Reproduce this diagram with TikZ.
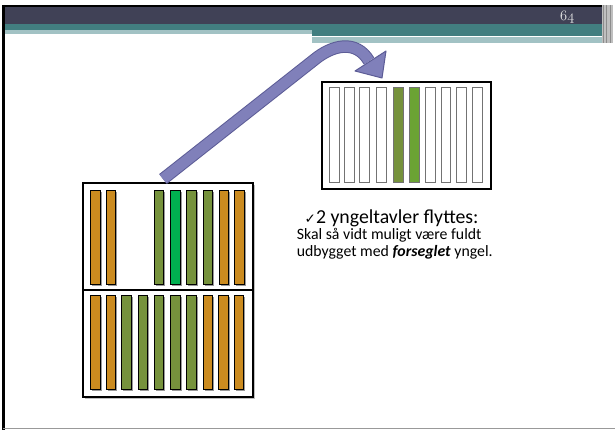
\documentclass[tikz,border=0pt]{standalone}
\usepackage{fontspec}
\setmainfont{Carlito}
\newfontfamily\symfont{DejaVu Sans}
\usetikzlibrary{positioning}

\definecolor{moerk}{RGB}{64,65,86}
\definecolor{teal}{RGB}{66,126,128}
\definecolor{lystteal}{RGB}{162,194,196}
\definecolor{tavleorange}{RGB}{203,139,31}
\definecolor{olivengroen}{RGB}{118,146,60}
\definecolor{klargroen}{RGB}{0,176,80}
\definecolor{nygroen}{RGB}{107,163,52}
\definecolor{pilfyld}{RGB}{128,128,186}
\definecolor{pilkant}{RGB}{92,92,150}

\begin{document}
\begin{tikzpicture}[x=1pt,y=-1pt]
\useasboundingbox (0,0) rectangle (615,430);

%ramme og top
    \fill[moerk] (5,6) rectangle (602,24);
    \fill[teal] (5,24) rectangle (602,30);
    \fill[teal] (312,30) rectangle (602,36);
    \fill[lystteal] (5,30) rectangle (312,34);
    \fill[lystteal] (312,37) rectangle (602,43);
    \draw[white, line width=1] (312,36.6) -- (573,36.6);
    \fill[black!25] (602,5) rectangle (613,43);
    \foreach \x in {603,606.5,610} {
        \draw[black!45, line width=0.8] (\x,5) -- (\x,43);
    }
    \draw[line width=2] (3,6) -- (602,6);
    \draw[line width=2.5] (3.5,5) -- (3.5,430);
    \draw[black!40, line width=1.5] (3,428.5) -- (615,428.5);
    \node[anchor=base west, inner sep=0, text=black!8,
        font=\fontsize{15}{16}\usefont{OML}{cmm}{m}{it}] (side)
        at (560,21) {64};

%venstre kasse (to tavler)
    \fill[black!25] (85,185) rectangle (255,399);
    \draw[line width=2.5, fill=white] (83,183) rectangle (253,290);
    \draw[line width=2.5, fill=white] (83,290) rectangle (253,397);

    %øverste række
    \foreach \x/\farve in {90.7/tavleorange, 106/tavleorange, 154.3/olivengroen,
        170.5/klargroen, 186.7/olivengroen, 203/olivengroen, 219/tavleorange,
        234.5/tavleorange} {
        \fill[black!40] (\x+1.5,192.2) rectangle (\x+11,285.5);
        \filldraw[draw=black, line width=0.8, fill=\farve] (\x,190.7) rectangle (\x+9.5,284);
    }

    %nederste række
    \foreach \x/\farve in {90.7/tavleorange, 106/tavleorange, 121.5/olivengroen,
        138/olivengroen, 154.3/olivengroen, 170.5/olivengroen, 186.7/olivengroen,
        203/tavleorange, 218.5/tavleorange, 234/tavleorange} {
        \fill[black!40] (\x+1.5,296.5) rectangle (\x+11,390.8);
        \filldraw[draw=black, line width=0.8, fill=\farve] (\x,295) rectangle (\x+9.5,389.3);
    }

%højre kasse
    \draw[line width=2.2, fill=white] (322,82) rectangle (491,189);
    \foreach \x/\farve in {329.3/white, 344.3/white, 359.3/white, 376.7/white,
        393.3/olivengroen, 409.3/nygroen, 425.3/white, 441/white, 456.7/white,
        472.3/white} {
        \filldraw[draw=black!55, line width=1, fill=\farve] (\x,87.3) rectangle (\x+9.7,182.3);
    }

%pil
    \coordinate (fra) at (163,179);
    \coordinate (knaek) at (314,60);
    \coordinate (spids) at (369,61);
    \draw[pilkant, line width=12.5] (fra) -- (knaek)
        .. controls (332,45) and (356,39) .. (spids);
    \draw[pilfyld, line width=10.5] (fra) -- (knaek)
        .. controls (332,45) and (356,39) .. (spids);
    \filldraw[draw=pilkant, fill=pilfyld, line width=1, line join=round]
        (386,51) -- (382,78) -- (355,71) -- cycle;

%tekst
    \node[anchor=base west, inner sep=0, font=\fontsize{19.8}{22}\selectfont] (punkt)
        at (304.5,224) {{\symfont\fontsize{13.5}{14}\selectfont ✓}2 yngeltavler flyttes:};
    \node[anchor=base west, inner sep=0, font=\fontsize{15.8}{16.7}\selectfont] (linje1)
        at (296.7,240) {Skal så vidt muligt være fuldt};
    \node[anchor=base west, inner sep=0, font=\fontsize{15.8}{16.7}\selectfont] (linje2)
        at (296.7,256.7) {udbygget med \textbf{\textit{forseglet}} yngel.};
\end{tikzpicture}
\end{document}
